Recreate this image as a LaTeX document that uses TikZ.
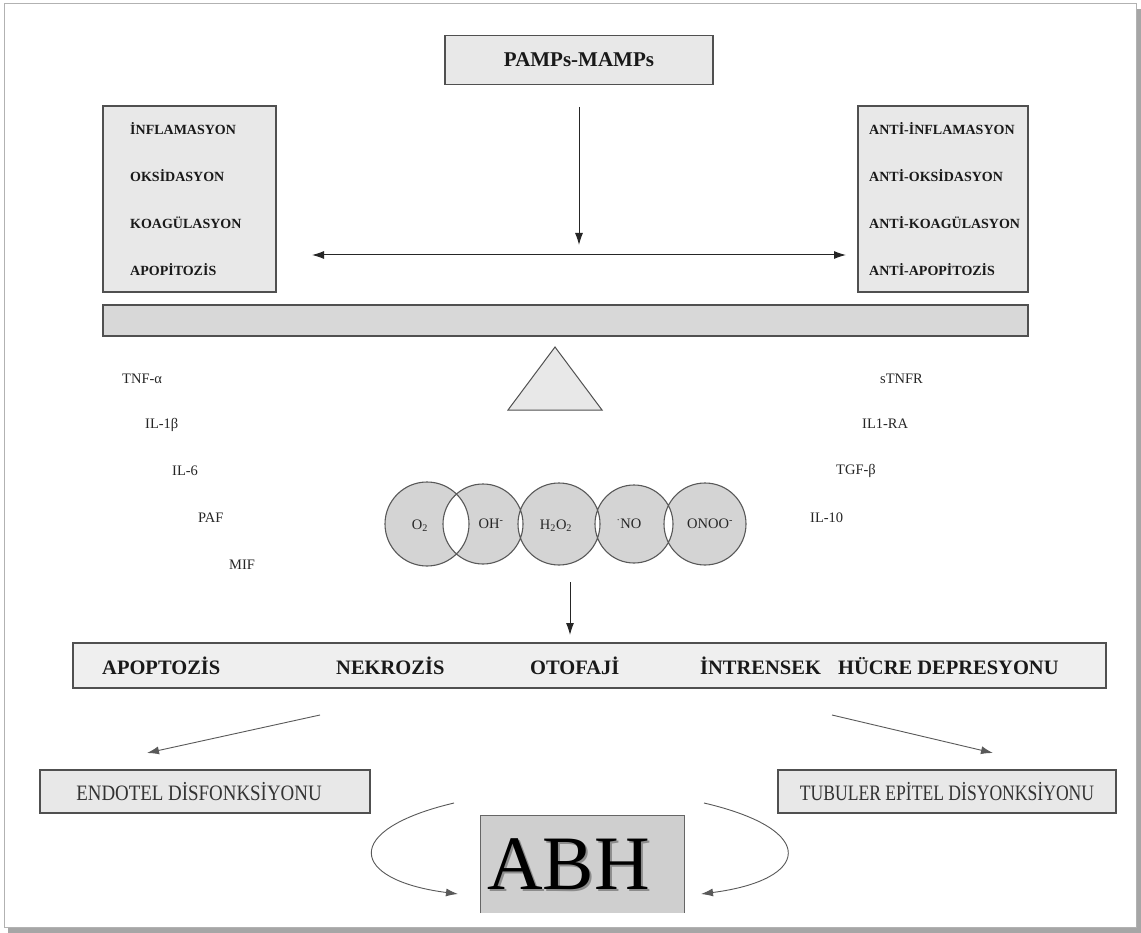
\documentclass[tikz,border=0pt]{standalone}
\usepackage{fontspec}
\setmainfont{Liberation Serif}
\usetikzlibrary{arrows.meta}
\definecolor{boxfill}{HTML}{E8E8E8}
\definecolor{barfill}{HTML}{D8D8D8}
\definecolor{circfill}{HTML}{D4D4D4}
\definecolor{abhfill}{HTML}{CFCFCF}
\definecolor{edge}{HTML}{505050}
\tikzset{
  graybox/.style={draw=edge, line width=1.3pt, fill=boxfill},
  tip/.tip={Latex[length=12pt,width=8pt]},
  arr/.style={-tip, line width=1pt, draw=black!85},
  thinarr/.style={-tip, line width=0.9pt, draw=black!65},
  boldlbl/.style={anchor=west, inner sep=0pt, font=\fontsize{14}{14}\selectfont\bfseries, text=black!90},
  barlbl/.style={anchor=west, inner sep=0pt, font=\fontsize{20.5}{20.5}\selectfont\bfseries, text=black!90},
  cyto/.style={anchor=west, inner sep=0pt, font=\fontsize{14.5}{14.5}\selectfont, text=black!85},
  circlbl/.style={inner sep=0pt, font=\fontsize{14.5}{14.5}\selectfont, text=black!85},
}
\begin{document}
\begin{tikzpicture}[x=1pt,y=-1pt]
\useasboundingbox (0,0) rectangle (1141,933);
% frame with shadow
\fill[black!35] (8,9) rectangle (1141,933);
\fill[white, draw=black!30, line width=1pt] (4,4) rectangle (1136,927);

% PAMPs box
\node[graybox, minimum width=268pt, minimum height=49pt, inner sep=0pt,
      font=\fontsize{21}{21}\selectfont\bfseries, text=black!90] (pamps) at (579,60) {PAMPs-MAMPs};

% left box
\draw[graybox] (103,106) rectangle (276,292);
\node[boldlbl] (l1) at (130,129) {İNFLAMASYON};
\node[boldlbl] (l2) at (130,176) {OKSİDASYON};
\node[boldlbl] (l3) at (130,223) {KOAGÜLASYON};
\node[boldlbl] (l4) at (130,270) {APOPİTOZİS};

% right box
\draw[graybox] (858,106) rectangle (1028,292);
\node[boldlbl] (r1) at (869,129) {ANTİ-İNFLAMASYON};
\node[boldlbl] (r2) at (869,176) {ANTİ-OKSİDASYON};
\node[boldlbl] (r3) at (869,223) {ANTİ-KOAGÜLASYON};
\node[boldlbl] (r4) at (869,270) {ANTİ-APOPİTOZİS};

% arrows
\coordinate (dtop) at (579,107);
\coordinate (dbot) at (579,245);
\draw[arr] (dtop) -- (dbot);
\coordinate (hl) at (312,255);
\coordinate (hr) at (846,255);
\draw[tip-tip, line width=1pt, draw=black!85] (hl) -- (hr);

% balance beam
\draw[draw=edge, line width=1.3pt, fill=barfill] (103,305) rectangle (1028,336);
% fulcrum
\draw[draw=edge, line width=1pt, fill=boxfill] (555,347) -- (602,410) -- (508,410) -- cycle;

% cytokines left
\node[cyto] (tnf) at (122,379) {TNF-α};
\node[cyto] (il1) at (145,425) {IL-1β};
\node[cyto] (il6) at (172,471) {IL-6};
\node[cyto] (paf) at (198,518) {PAF};
\node[cyto] (mif) at (229,565) {MIF};
% right
\node[cyto] (stnfr) at (880,379) {sTNFR};
\node[cyto] (il1ra) at (862,424) {IL1-RA};
\node[cyto] (tgf) at (836,471) {TGF-β};
\node[cyto] (il10) at (810,518) {IL-10};

% radical circles
\fill[circfill, even odd rule] (427,524) circle (42) (483,524) circle (40) (559,524) circle (41) (634,524) circle (39) (705,524) circle (41);
\draw[black!65, line width=1.1pt] (427,524) circle (42) (483,524) circle (40) (559,524) circle (41) (634,524) circle (39) (705,524) circle (41);
\node[circlbl] (o2) at (420,526) {O\textsubscript{2}};
\node[circlbl] (oh) at (491,524) {OH\textsuperscript{-}};
\node[circlbl] (h2o2) at (556,526) {H\textsubscript{2}O\textsubscript{2}};
\node[circlbl] (no) at (629,524) {\textsuperscript{·}NO};
\node[circlbl] (onoo) at (710,524) {ONOO\textsuperscript{-}};

\coordinate (c1) at (570,582);
\coordinate (c2) at (570,635);
\draw[arr] (c1) -- (c2);

% outcomes bar
\draw[draw=edge, line width=1.3pt, fill=boxfill!70!white] (73,643) rectangle (1106,688);
\node[barlbl] (apo) at (102,666) {APOPTOZİS};
\node[barlbl] (nek) at (336,666) {NEKROZİS};
\node[barlbl] (oto) at (530,666) {OTOFAJİ};
\node[barlbl] (int) at (700,666) {İNTRENSEK};
\node[barlbl] (hucre) at (838,666) {HÜCRE DEPRESYONU};

% diverging arrows
\coordinate (a1s) at (320,715);
\coordinate (a1e) at (147,753);
\coordinate (a2s) at (832,715);
\coordinate (a2e) at (993,753);
\draw[thinarr] (a1s) -- (a1e);
\draw[thinarr] (a2s) -- (a2e);

% dysfunction boxes
\draw[draw=edge, line width=1.3pt, fill=boxfill] (40,770) rectangle (370,813);
\node[inner sep=0pt, text=black!80] (endo) at (199,792) {\scalebox{0.86}[1]{\fontsize{22}{22}\selectfont ENDOTEL DİSFONKSİYONU}};
\draw[draw=edge, line width=1.3pt, fill=boxfill] (778,770) rectangle (1116,813);
\node[inner sep=0pt, text=black!80] (tub) at (947,792) {\scalebox{0.80}[1]{\fontsize{22}{22}\selectfont TUBULER EPİTEL DİSYONKSİYONU}};

% ABH
\fill[abhfill] (480,815) rectangle (684,913);
\draw[black!60, line width=1pt] (480,913) -- (480,815) -- (684,815) -- (684,913);
\node[inner sep=0pt, anchor=base west, text=black!45, font=\fontsize{77}{77}\selectfont] at (489,891) {ABH};
\node[inner sep=0pt, anchor=base west, text=black, font=\fontsize{77}{77}\selectfont] (abh) at (487,889) {ABH};

% curved arrows
\coordinate (cl1) at (454,803);
\coordinate (cl2) at (458,894);
\coordinate (cr1) at (704,803);
\coordinate (cr2) at (701,894);
\draw[thinarr] (cl1) .. controls (340,830) and (350,880) .. (cl2);
\draw[thinarr] (cr1) .. controls (820,830) and (810,880) .. (cr2);
\end{tikzpicture}
\end{document}
